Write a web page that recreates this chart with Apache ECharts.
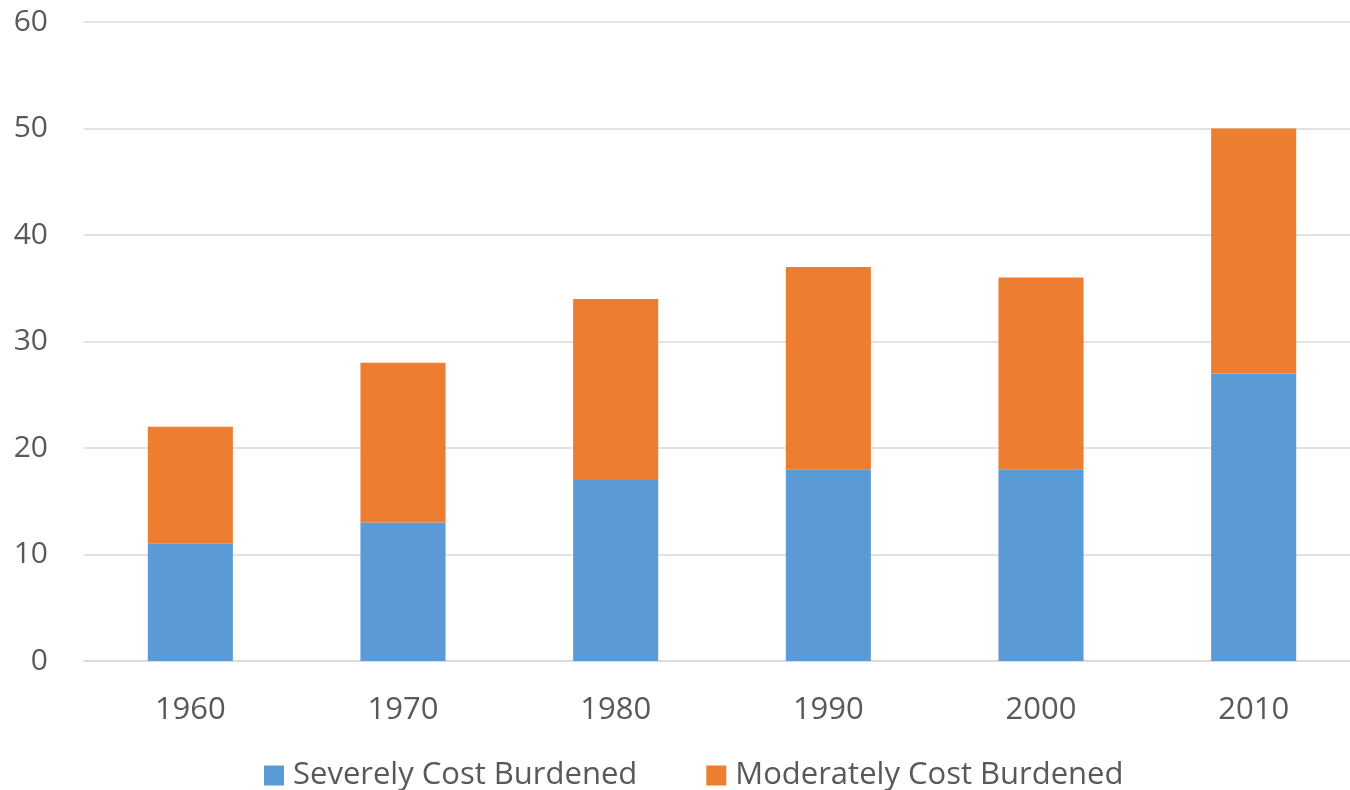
<!DOCTYPE html>
<html>
<head>
<meta charset="utf-8">
<script src="https://cdn.jsdelivr.net/npm/echarts@6/dist/echarts.min.js"></script>
<style>
    html, body { margin: 0; padding: 0; background: #fff; overflow: hidden; }
    #chart { width: 1350px; height: 790px; }
</style>
</head>
<body>
<div id="chart"></div>
<script>
    // decades on the x axis
    const years = ['1960', '1970', '1980', '1990', '2000', '2010'];
    // share of renters, stacked
    const severe = [11, 13, 17, 18, 18, 27];
    const moderate = [11, 15, 17, 19, 18, 23];
    const seriesNames = ['Severely Cost Burdened', 'Moderately Cost Burdened'];

    const font = '"Open Sans", "Noto Sans", sans-serif';
    let myChart = echarts.init(document.getElementById('chart'));
    let option = {
        animation: false,
        grid: {
            left: 84,
            width: 1276,
            top: 22,
            bottom: 129,
            containLabel: false,
            outerBoundsMode: 'none'
        },
        legend: {
            left: 264,
            top: 760,
            padding: 0,
            itemWidth: 20,
            itemHeight: 20,
            itemGap: 69,
            icon: 'rect',
            data: seriesNames,
            textStyle: {
                color: '#595959',
                fontSize: 31,
                fontFamily: font,
                padding: [0, 0, 0, 4]
            }
        },
        xAxis: {
            type: 'category',
            data: years,
            axisLine: { lineStyle: { color: '#d9d9d9', width: 1.5 } },
            axisTick: { show: false },
            axisLabel: {
                color: '#595959',
                fontSize: 31,
                fontFamily: font,
                margin: 34
            }
        },
        yAxis: {
            type: 'value',
            min: 0,
            max: 60,
            interval: 10,
            axisLine: { show: false },
            axisTick: { show: false },
            splitLine: { lineStyle: { color: '#d9d9d9', width: 1.5 } },
            axisLabel: {
                color: '#595959',
                fontSize: 30,
                fontFamily: font,
                margin: 36
            }
        },
        series: [
            {
                name: seriesNames[0],
                type: 'bar',
                stack: 'total',
                barWidth: '40%',
                itemStyle: { color: '#5b9bd5' },
                data: severe
            },
            {
                name: seriesNames[1],
                type: 'bar',
                stack: 'total',
                barWidth: '40%',
                itemStyle: { color: '#ed7d31' },
                data: moderate
            }
        ]
    };
    myChart.setOption(option);
</script>
</body>
</html>
